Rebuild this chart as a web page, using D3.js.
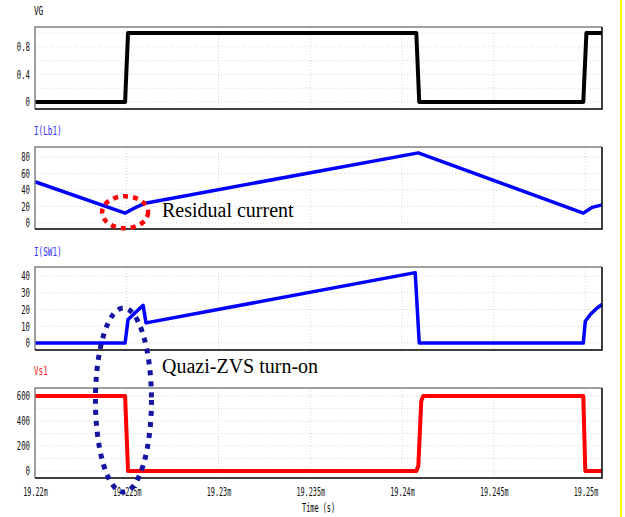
<!DOCTYPE html>
<html>
<head>
<meta charset="utf-8">
<script src="https://cdn.jsdelivr.net/npm/d3@7"></script>
<style>
  body { margin: 0; background: #fff; }
  svg { display: block; }
  .tick text { font-family: "DejaVu Sans Mono", monospace; font-size: 12px; fill: #111; }
  .grid line { stroke: #d8d8d0; stroke-dasharray: 1,2; }
</style>
</head>
<body>
<svg id="chart" width="625" height="517"></svg>
<script>
// time in ms (labels show "m")
const xTicks = [19.22, 19.225, 19.23, 19.235, 19.24, 19.245, 19.25];

const vgTime = [19.22, 19.22491, 19.22507, 19.24078, 19.24094, 19.24988, 19.25005, 19.2509];
const vgVal  = [0, 0, 1, 1, 0, 0, 1, 1];

const lbTime = [19.22, 19.22491, 19.2255, 19.2260, 19.24089, 19.24988, 19.25037, 19.2509];
const lbVal  = [50, 12, 19, 24, 85, 12, 19, 22];

const swTime = [19.22, 19.22491, 19.22507, 19.22589, 19.22605, 19.24072, 19.24094, 19.24988, 19.24999, 19.25026, 19.25059, 19.2509];
const swVal  = [0, 0, 14, 22.5, 12, 42, 0, 0, 13, 17, 20.5, 23];

const vsTime = [19.22, 19.22491, 19.22507, 19.24078, 19.24089, 19.24105, 19.24116, 19.24988, 19.24999, 19.2509];
const vsVal  = [600, 600, 0, 0, 40, 560, 600, 600, 0, 0];

const svg = d3.select('#chart');

const left = 35, right = 602;
const x = d3.scaleLinear().domain([19.22, 19.2509]).range([left, right]);

// panel layout: frame top/bottom, two reference values and their pixel rows
const panels = [
    { name: 'VG', color: '#000', titleColor: '#000', titleY: 15, top: 27, bottom: 109,
      ref: [0, 1], refPx: [102, 33], ticks: [0, 0.4, 0.8], grid: [0, 0.2, 0.4, 0.6, 0.8, 1],
      fmt: d3.format('~g'), t: vgTime, v: vgVal, w: 4 },
    { name: 'I(Lb1)', color: '#0000ff', titleColor: '#3030ff', titleY: 135, top: 147, bottom: 229,
      ref: [0, 80], refPx: [223, 157], ticks: [0, 20, 40, 60, 80], grid: [0, 20, 40, 60, 80],
      fmt: d3.format('d'), t: lbTime, v: lbVal, w: 3.5 },
    { name: 'I(SW1)', color: '#0000ff', titleColor: '#3030ff', titleY: 256, top: 267, bottom: 350,
      ref: [0, 40], refPx: [343, 276], ticks: [0, 10, 20, 30, 40], grid: [0, 10, 20, 30, 40],
      fmt: d3.format('d'), t: swTime, v: swVal, w: 3.5 },
    { name: 'Vs1', color: '#ff0000', titleColor: '#ff2020', titleY: 375, top: 388, bottom: 478,
      ref: [0, 600], refPx: [471, 396], ticks: [0, 200, 400, 600], grid: [0, 100, 200, 300, 400, 500, 600],
      fmt: d3.format('d'), t: vsTime, v: vsVal, w: 4 }
];

panels.forEach(p => {
    const y = d3.scaleLinear().domain(p.ref).range(p.refPx);
    p.y = y;
    const g = svg.append('g');

    // title
    g.append('text')
        .attr('x', left - 1)
        .attr('y', p.titleY)
        .attr('fill', p.titleColor)
        .style('font-family', '"DejaVu Sans Mono", monospace')
        .style('font-size', '12px')
        .attr('textLength', p.name.length * 4.6)
        .attr('lengthAdjust', 'spacingAndGlyphs')
        .text(p.name);

    // grid
    const grid = g.append('g').attr('class', 'grid');
    grid.selectAll('line.h')
        .data(p.grid)
        .enter()
        .append('line')
        .attr('x1', left).attr('x2', right)
        .attr('y1', d => y(d)).attr('y2', d => y(d));
    grid.selectAll('line.v')
        .data(xTicks.slice(1))
        .enter()
        .append('line')
        .attr('x1', d => x(d)).attr('x2', d => x(d))
        .attr('y1', p.top).attr('y2', p.bottom);

    // y axis
    const yAxis = g.append('g')
        .attr('transform', `translate(${left},0)`)
        .call(d3.axisLeft(y).tickValues(p.ticks).tickSize(0).tickPadding(5).tickFormat(p.fmt));
    yAxis.select('.domain').remove();
    yAxis.selectAll('.tick text')
        .attr('textLength', function() { return this.textContent.length * 4.4; })
        .attr('lengthAdjust', 'spacingAndGlyphs');

    // trace
    const pts = p.t.map((t, i) => [t, p.v[i]]);
    g.append('path')
        .datum(pts)
        .attr('fill', 'none')
        .attr('stroke', p.color)
        .attr('stroke-width', p.w)
        .attr('stroke-linejoin', 'round')
        .attr('d', d3.line().x(d => x(d[0])).y(d => y(d[1])));

    // frame: grey top/left, black bottom/right
    g.append('path')
        .attr('fill', 'none')
        .attr('stroke', '#808080')
        .attr('stroke-width', 1.5)
        .attr('d', `M${left},${p.bottom}V${p.top}H${right}`);
    g.append('path')
        .attr('fill', 'none')
        .attr('stroke', '#000')
        .attr('stroke-width', 1.5)
        .attr('d', `M${right},${p.top}V${p.bottom}H${left}`);
});

// x axis
const last = panels[3];
const xAxis = svg.append('g')
    .attr('transform', `translate(0,${last.bottom})`)
    .call(d3.axisBottom(x).tickValues(xTicks).tickSize(0).tickPadding(9)
        .tickFormat(d => d3.format('~g')(d) + 'm'));
xAxis.select('.domain').remove();
xAxis.selectAll('.tick text')
    .attr('textLength', function() { return this.textContent.length * 4.1; })
    .attr('lengthAdjust', 'spacingAndGlyphs');

svg.append('text')
    .attr('x', (left + right) / 2)
    .attr('y', 512)
    .attr('text-anchor', 'middle')
    .style('font-family', '"DejaVu Sans Mono", monospace')
    .style('font-size', '12px')
    .attr('textLength', 33)
    .attr('lengthAdjust', 'spacingAndGlyphs')
    .text('Time (s)');

// annotations
const lb = panels[1];
svg.append('ellipse')
    .attr('cx', x(19.22491))
    .attr('cy', lb.y(13))
    .attr('rx', 23)
    .attr('ry', 16)
    .attr('fill', 'none')
    .attr('stroke', '#ff0000')
    .attr('stroke-width', 4.5)
    .attr('stroke-dasharray', '5,5');

svg.append('text')
    .attr('x', 162)
    .attr('y', 217)
    .style('font-family', '"Liberation Serif", "Times New Roman", serif')
    .style('font-size', '20px')
    .text('Residual current');

svg.append('ellipse')
    .attr('cx', x(19.22482))
    .attr('cy', 400)
    .attr('rx', 28)
    .attr('ry', 92)
    .attr('fill', 'none')
    .attr('stroke', '#1414a0')
    .attr('stroke-width', 5)
    .attr('stroke-dasharray', '5,6');

svg.append('text')
    .attr('x', 162)
    .attr('y', 373)
    .style('font-family', '"Liberation Serif", "Times New Roman", serif')
    .style('font-size', '20px')
    .text('Quazi-ZVS turn-on');

// yellow edge
svg.append('line')
    .attr('x1', 621).attr('x2', 621)
    .attr('y1', 0).attr('y2', 517)
    .attr('stroke', '#ffff00')
    .attr('stroke-width', 2);
</script>
</body>
</html>
